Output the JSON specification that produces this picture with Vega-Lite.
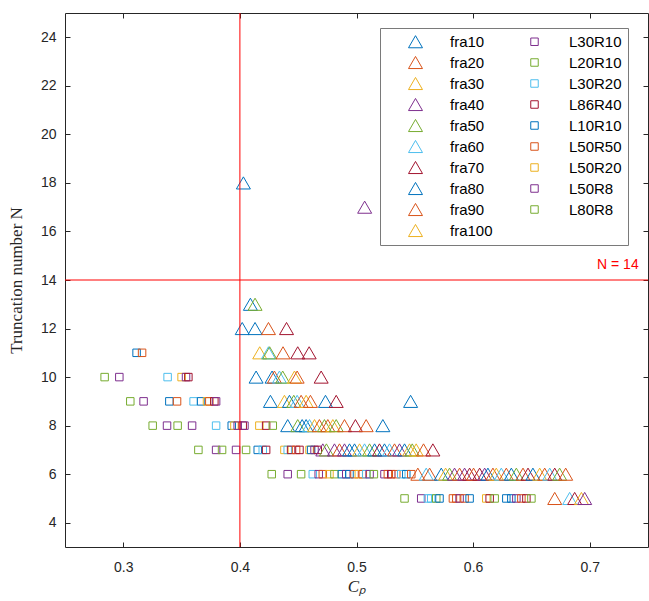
{
  "$schema": "https://vega.github.io/schema/vega-lite/v6.json",
  "autosize": {"type": "none"},
  "width": 583,
  "height": 534,
  "padding": {"left": 65, "top": 13, "right": 1, "bottom": 54},
  "background": "white",
  "config": {
    "view": {"stroke": "#262626", "strokeWidth": 1},
    "axis": {"grid": false, "domain": false, "tickColor": "#262626", "tickSize": -5, "labelColor": "#262626", "labelFont": "Liberation Sans", "labelFontSize": 14, "titleFont": "Liberation Serif", "titleFontSize": 17, "titleFontWeight": "normal", "titleColor": "#262626"}
  },
  "datasets": {
    "pts": [
      {"s":"fra10","x":0.403,"y":18},
      {"s":"fra40","x":0.507,"y":17},
      {"s":"fra80","x":0.409,"y":13},{"s":"fra50","x":0.413,"y":13},
      {"s":"fra10","x":0.402,"y":12},{"s":"fra80","x":0.413,"y":12},{"s":"fra20","x":0.4245,"y":12},{"s":"fra70","x":0.440,"y":12},
      {"s":"L10R10","x":0.3114,"y":11},{"s":"L50R50","x":0.3161,"y":11},{"s":"fra30","x":0.417,"y":11},{"s":"fra60","x":0.4245,"y":11},{"s":"fra50","x":0.4255,"y":11},{"s":"fra90","x":0.437,"y":11},{"s":"fra70","x":0.4496,"y":11},{"s":"fra70","x":0.4594,"y":11},
      {"s":"L20R10","x":0.284,"y":10},{"s":"L30R10","x":0.2966,"y":10},{"s":"L30R20","x":0.338,"y":10},{"s":"L50R20","x":0.350,"y":10},{"s":"L50R8","x":0.3538,"y":10},{"s":"L86R40","x":0.3558,"y":10},
      {"s":"fra10","x":0.4139,"y":10},{"s":"fra80","x":0.4276,"y":10},{"s":"fra20","x":0.4296,"y":10},{"s":"fra60","x":0.4339,"y":10},{"s":"fra50","x":0.4367,"y":10},{"s":"fra30","x":0.4468,"y":10},{"s":"fra90","x":0.4491,"y":10},{"s":"fra70","x":0.4697,"y":10},
      {"s":"L80R8","x":0.306,"y":9},{"s":"L50R8","x":0.3174,"y":9},{"s":"L10R10","x":0.3395,"y":9},{"s":"L50R50","x":0.3461,"y":9},{"s":"L30R20","x":0.3603,"y":9},{"s":"L10R10","x":0.3667,"y":9},{"s":"L50R20","x":0.3718,"y":9},{"s":"L50R50","x":0.3738,"y":9},{"s":"L86R40","x":0.3781,"y":9},{"s":"L30R10","x":0.3796,"y":9},
      {"s":"fra10","x":0.4262,"y":9},{"s":"fra30","x":0.4382,"y":9},{"s":"fra80","x":0.4425,"y":9},{"s":"fra50","x":0.4462,"y":9},{"s":"fra60","x":0.4491,"y":9},{"s":"fra20","x":0.4525,"y":9},{"s":"fra100","x":0.4568,"y":9},{"s":"fra90","x":0.4605,"y":9},{"s":"fra10","x":0.4734,"y":9},{"s":"fra70","x":0.4826,"y":9},{"s":"fra80","x":0.5464,"y":9},
      {"s":"L20R10","x":0.3252,"y":8},{"s":"L30R10","x":0.3375,"y":8},{"s":"L80R8","x":0.3466,"y":8},{"s":"L50R8","x":0.359,"y":8},{"s":"L30R20","x":0.3796,"y":8},{"s":"L10R10","x":0.393,"y":8},{"s":"L50R20","x":0.3953,"y":8},{"s":"L30R10","x":0.3981,"y":8},{"s":"L86R40","x":0.4024,"y":8},{"s":"L50R8","x":0.4039,"y":8},{"s":"L50R20","x":0.4167,"y":8},{"s":"L86R40","x":0.4225,"y":8},{"s":"L20R10","x":0.4282,"y":8},
      {"s":"fra10","x":0.441,"y":8},{"s":"fra50","x":0.4496,"y":8},{"s":"fra80","x":0.4534,"y":8},{"s":"fra10","x":0.4568,"y":8},{"s":"fra60","x":0.4597,"y":8},{"s":"fra30","x":0.464,"y":8},{"s":"fra20","x":0.4682,"y":8},{"s":"fra50","x":0.4725,"y":8},{"s":"fra90","x":0.4754,"y":8},{"s":"fra100","x":0.4797,"y":8},{"s":"fra50","x":0.4826,"y":8},{"s":"fra20","x":0.4897,"y":8},{"s":"fra70","x":0.4991,"y":8},{"s":"fra90","x":0.5083,"y":8},{"s":"fra80","x":0.5226,"y":8},
      {"s":"L20R10","x":0.3644,"y":7},{"s":"L30R10","x":0.3796,"y":7},{"s":"L80R8","x":0.3847,"y":7},{"s":"L50R8","x":0.3967,"y":7},{"s":"L20R10","x":0.4053,"y":7},{"s":"L10R10","x":0.4153,"y":7},{"s":"L30R20","x":0.4196,"y":7},{"s":"L86R40","x":0.4225,"y":7},{"s":"L50R20","x":0.4382,"y":7},{"s":"L30R20","x":0.441,"y":7},{"s":"L86R40","x":0.4439,"y":7},{"s":"L50R50","x":0.4482,"y":7},{"s":"L86R40","x":0.4511,"y":7},{"s":"L50R20","x":0.4597,"y":7},{"s":"L10R10","x":0.4611,"y":7},{"s":"L30R10","x":0.464,"y":7},{"s":"L86R40","x":0.4668,"y":7},
      {"s":"fra40","x":0.4711,"y":7},{"s":"fra50","x":0.4742,"y":7},{"s":"fra40","x":0.4811,"y":7},{"s":"fra20","x":0.4854,"y":7},{"s":"fra40","x":0.4897,"y":7},{"s":"fra10","x":0.494,"y":7},{"s":"fra80","x":0.4983,"y":7},{"s":"fra30","x":0.5026,"y":7},{"s":"fra60","x":0.5069,"y":7},{"s":"fra50","x":0.5112,"y":7},{"s":"fra10","x":0.5155,"y":7},{"s":"fra70","x":0.5197,"y":7},{"s":"fra80","x":0.524,"y":7},{"s":"fra60","x":0.5283,"y":7},{"s":"fra20","x":0.5326,"y":7},{"s":"fra40","x":0.5369,"y":7},{"s":"fra10","x":0.5412,"y":7},{"s":"fra30","x":0.5455,"y":7},{"s":"fra50","x":0.5478,"y":7},{"s":"fra100","x":0.5512,"y":7},{"s":"fra90","x":0.5575,"y":7},{"s":"fra70","x":0.5655,"y":7},
      {"s":"L20R10","x":0.4273,"y":6},{"s":"L30R10","x":0.441,"y":6},{"s":"L80R8","x":0.4525,"y":6},{"s":"L30R20","x":0.4625,"y":6},{"s":"L50R8","x":0.4676,"y":6},{"s":"L50R50","x":0.4711,"y":6},{"s":"L50R20","x":0.4768,"y":6},{"s":"L20R10","x":0.4811,"y":6},{"s":"L10R10","x":0.4874,"y":6},{"s":"L30R10","x":0.4912,"y":6},{"s":"L10R10","x":0.494,"y":6},{"s":"L50R50","x":0.4983,"y":6},{"s":"L50R20","x":0.502,"y":6},{"s":"L50R50","x":0.5054,"y":6},{"s":"L30R20","x":0.5083,"y":6},{"s":"L50R8","x":0.5112,"y":6},{"s":"L80R8","x":0.5149,"y":6},{"s":"L30R10","x":0.524,"y":6},{"s":"L50R50","x":0.5269,"y":6},{"s":"L86R40","x":0.5298,"y":6},{"s":"L50R50","x":0.5341,"y":6},{"s":"L30R20","x":0.5384,"y":6},{"s":"L10R10","x":0.5427,"y":6},{"s":"L50R50","x":0.547,"y":6},
      {"s":"fra20","x":0.5526,"y":6},{"s":"fra60","x":0.5598,"y":6},{"s":"fra90","x":0.5627,"y":6},{"s":"fra10","x":0.5727,"y":6},{"s":"fra30","x":0.5764,"y":6},{"s":"fra50","x":0.5798,"y":6},{"s":"fra40","x":0.5841,"y":6},{"s":"fra20","x":0.5884,"y":6},{"s":"fra40","x":0.5927,"y":6},{"s":"fra70","x":0.597,"y":6},{"s":"fra90","x":0.6004,"y":6},{"s":"fra70","x":0.6056,"y":6},{"s":"fra40","x":0.6099,"y":6},{"s":"fra80","x":0.6127,"y":6},{"s":"fra20","x":0.617,"y":6},{"s":"fra30","x":0.6199,"y":6},{"s":"fra60","x":0.6242,"y":6},{"s":"fra90","x":0.6285,"y":6},{"s":"fra10","x":0.6328,"y":6},{"s":"fra50","x":0.6371,"y":6},{"s":"fra20","x":0.6428,"y":6},{"s":"fra70","x":0.6471,"y":6},{"s":"fra80","x":0.6513,"y":6},{"s":"fra100","x":0.6571,"y":6},{"s":"fra90","x":0.6614,"y":6},{"s":"fra60","x":0.6657,"y":6},{"s":"fra70","x":0.67,"y":6},{"s":"fra50","x":0.6742,"y":6},{"s":"fra20","x":0.6794,"y":6},
      {"s":"L80R8","x":0.5412,"y":5},{"s":"L30R10","x":0.5555,"y":5},{"s":"L30R20","x":0.5612,"y":5},{"s":"L30R20","x":0.5641,"y":5},{"s":"L20R10","x":0.5684,"y":5},{"s":"L10R10","x":0.5712,"y":5},{"s":"L50R50","x":0.5827,"y":5},{"s":"L50R50","x":0.5856,"y":5},{"s":"L30R10","x":0.5884,"y":5},{"s":"L50R50","x":0.5927,"y":5},{"s":"L10R10","x":0.597,"y":5},{"s":"L50R20","x":0.6113,"y":5},{"s":"L86R40","x":0.6142,"y":5},{"s":"L20R10","x":0.6185,"y":5},{"s":"L10R10","x":0.6285,"y":5},{"s":"L10R10","x":0.6328,"y":5},{"s":"L50R8","x":0.6371,"y":5},{"s":"L50R50","x":0.6414,"y":5},{"s":"L86R40","x":0.6457,"y":5},{"s":"L80R8","x":0.65,"y":5},
      {"s":"fra90","x":0.67,"y":5},{"s":"fra60","x":0.6828,"y":5},{"s":"fra70","x":0.6871,"y":5},{"s":"fra100","x":0.6929,"y":5},{"s":"fra40","x":0.6957,"y":5}
    ],
    "vline": [{"x": 0.4}],
    "hline": [{"y": 14}],
    "label": [{"x": 0.742, "y": 14, "t": "N = 14"}]
  },
  "layer": [
    {
      "data": {"name": "pts"},
      "mark": {"type": "point", "filled": false, "strokeWidth": 1, "opacity": 1},
      "encoding": {
        "x": {"field": "x", "type": "quantitative", "scale": {"domain": [0.25, 0.75], "nice": false, "zero": false},
              "axis": {"orient": "bottom", "values": [0.3, 0.4, 0.5, 0.6, 0.7], "format": ".1f", "labelPadding": 18, "title": "Cₚ", "titleFontStyle": "italic", "titlePadding": 4}},
        "y": {"field": "y", "type": "quantitative", "scale": {"domain": [3, 25], "nice": false, "zero": false},
              "axis": {"orient": "left", "values": [4, 6, 8, 10, 12, 14, 16, 18, 20, 22, 24], "labelPadding": 14, "title": "Truncation number N", "titlePadding": 15}},
        "color": {"field": "s", "type": "nominal",
          "scale": {"domain": ["fra10","fra20","fra30","fra40","fra50","fra60","fra70","fra80","fra90","fra100","L30R10","L20R10","L30R20","L86R40","L10R10","L50R50","L50R20","L50R8","L80R8"],
                    "range": ["#0072BD","#D95319","#EDB120","#7E2F8E","#77AC30","#4DBEEE","#A2142F","#0072BD","#D95319","#EDB120","#7E2F8E","#77AC30","#4DBEEE","#A2142F","#0072BD","#D95319","#EDB120","#7E2F8E","#77AC30"]},
          "legend": {"title": null, "orient": "none", "legendX": 315, "legendY": 15, "columns": 2, "direction": "vertical", "labelFont": "Liberation Sans", "labelFontSize": 15, "labelColor": "#000000", "labelExpr": "datum.label + '\u00a0\u00a0'", "strokeColor": "#7a7a7a", "fillColor": "white", "padding": 6, "rowPadding": 4, "columnPadding": 12, "symbolOffset": 22, "labelOffset": 27, "symbolStrokeWidth": 1}},
        "shape": {"field": "s", "type": "nominal",
          "scale": {"domain": ["fra10","fra20","fra30","fra40","fra50","fra60","fra70","fra80","fra90","fra100","L30R10","L20R10","L30R20","L86R40","L10R10","L50R50","L50R20","L50R8","L80R8"],
                    "range": ["triangle-up","triangle-up","triangle-up","triangle-up","triangle-up","triangle-up","triangle-up","triangle-up","triangle-up","triangle-up","square","square","square","square","square","square","square","square","square"]}},
        "size": {"field": "s", "type": "nominal",
          "scale": {"type": "ordinal", "domain": ["fra10","fra20","fra30","fra40","fra50","fra60","fra70","fra80","fra90","fra100","L30R10","L20R10","L30R20","L86R40","L10R10","L50R50","L50R20","L50R8","L80R8"],
                    "range": [196,196,196,196,196,196,196,196,196,196,56,56,56,56,56,56,56,56,56]}}
      }
    },
    {
      "data": {"name": "vline"},
      "mark": {"type": "rule", "color": "#FF0000", "strokeWidth": 1},
      "encoding": {
        "x": {"field": "x", "type": "quantitative", "axis": {"orient": "top", "values": [0.3, 0.4, 0.5, 0.6, 0.7], "labels": false, "title": null}}
      }
    },
    {
      "data": {"name": "hline"},
      "mark": {"type": "rule", "color": "#FF0000", "strokeWidth": 1},
      "encoding": {
        "y": {"field": "y", "type": "quantitative", "axis": {"orient": "right", "values": [4, 6, 8, 10, 12, 14, 16, 18, 20, 22, 24], "labels": false, "title": null}}
      }
    },
    {
      "data": {"name": "label"},
      "mark": {"type": "text", "color": "#FF0000", "font": "Liberation Sans", "fontSize": 14, "align": "right", "baseline": "bottom", "dy": -8},
      "encoding": {
        "x": {"field": "x", "type": "quantitative", "axis": null},
        "y": {"field": "y", "type": "quantitative", "axis": null},
        "text": {"field": "t"}
      }
    }
  ],
  "resolve": {"axis": {"x": "independent", "y": "independent"}}
}
